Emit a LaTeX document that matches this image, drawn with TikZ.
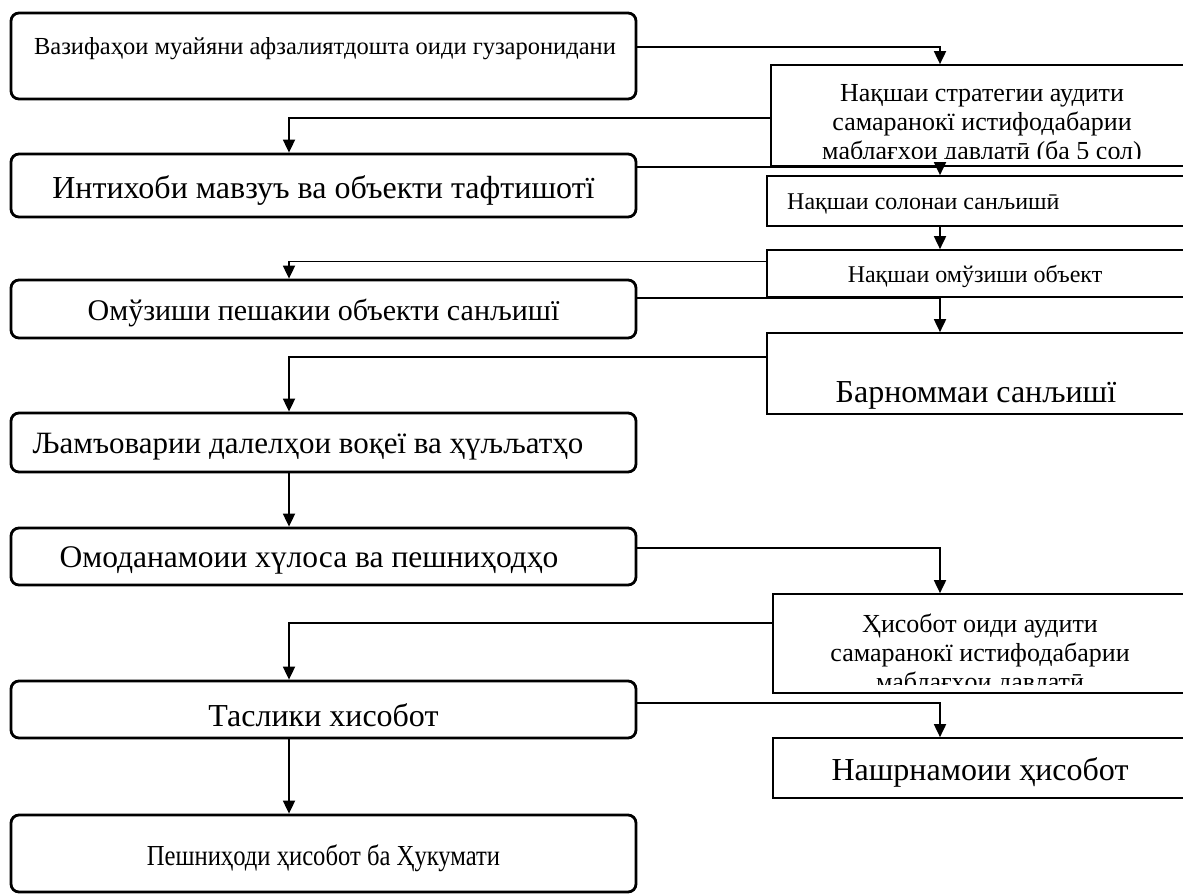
\documentclass[tikz,border=0pt]{standalone}
\usepackage{fontspec}
\setmainfont{Liberation Serif}
\usepackage{graphicx}
\usepackage{tikz}
\usetikzlibrary{arrows.meta}
\tikzstyle{stage} = [rectangle, rounded corners=8pt, minimum width=625pt, line width=2.8pt, draw=black]
\tikzstyle{plan} = [rectangle, line width=1.7pt, draw=black]
\tikzstyle{txtsmall} = [inner sep=0pt, anchor=base, font=\fontsize{24}{28}\selectfont]
\tikzstyle{txtmid} = [inner sep=0pt, anchor=base, font=\fontsize{26}{30}\selectfont]
\tikzstyle{txtbig} = [inner sep=0pt, anchor=base, font=\fontsize{32}{38}\selectfont]
\tikzstyle{arrow} = [line width=1.8pt, ->, >={Triangle[length=13pt, width=12pt]}]

\begin{document}
\begin{tikzpicture}[x=1pt, y=-1pt]
      \useasboundingbox (0,0) rectangle (1183,895);
      \clip (0,0) rectangle (1183,895);
      \coordinate (lx) at (289,0);
      \coordinate (rx) at (940,0);
      % left column
      \node (A) [stage, minimum height=86pt] at (323.5,56) {};
      \node (A-t) [txtsmall, font=\fontsize{24.5}{28}\selectfont] at (325,54) {Вазифаҳои муайяни афзалиятдошта оиди гузаронидани};
      \node (C) [stage, minimum height=63pt] at (323.5,185.5) {};
      \node (C-t) [txtbig] at (323.5,198) {Интихоби мавзуъ ва объекти тафтишотї};
      \node (F) [stage, minimum height=58pt] at (323.5,309) {};
      \node (F-t) [txtbig, font=\fontsize{30}{36}\selectfont] at (323.5,320) {Омўзиши пешакии объекти санљишї};
      \node (J) [stage, minimum height=59pt] at (323.5,442.5) {};
      \node (J-t) [txtbig, font=\fontsize{31}{36}\selectfont] at (308,453) {Љамъоварии далелҳои воқеї ва ҳүљљатҳо};
      \node (K) [stage, minimum height=57pt] at (323.5,556.5) {};
      \node (K-t) [txtbig, font=\fontsize{31.5}{36}\selectfont] at (309,567) {Омоданамоии хүлоса ва пешниҳодҳо};
      \node (M) [stage, minimum height=57pt] at (323.5,709.5) {};
      \node (M-t) [txtbig] at (323.5,726) {Таслики хисобот};
      \node (N) [stage, minimum height=77pt] at (323.5,853.5) {};
      \node (N-t) [txtbig, font=\fontsize{29}{34}\selectfont] at (323.5,865) {\scalebox{0.85}[1]{Пешниҳоди ҳисобот ба Ҳукумати}};
      % right column
      \node (B) [plan, minimum width=421pt, minimum height=101pt] at (981.5,115.5) {};
      \begin{scope}
        \clip (B.north west) rectangle ([yshift=8pt]B.south east);
        \node (B-1) [txtmid] at (982,101) {Нақшаи стратегии аудити};
        \node (B-2) [txtmid] at (982,130) {самаранокї истифодабарии};
        \node (B-3) [txtmid] at (982,159) {маблағҳои давлатӣ (ба 5 сол)};
      \end{scope}
      \node (D) [plan, minimum width=425pt, minimum height=50pt] at (979.5,201) {};
      \node (D-t) [txtsmall, anchor=base west] at (787,209) {Нақшаи солонаи санљишӣ};
      \node (E) [plan, minimum width=425pt, minimum height=47pt] at (979.5,273.5) {};
      \node (E-t) [txtsmall] at (975,282) {Нақшаи омўзиши объект};
      \node (G) [plan, minimum width=425pt, minimum height=81pt] at (979.5,373.5) {};
      \node (G-t) [txtbig] at (976,402) {Барноммаи санљишї};
      \node (L) [plan, minimum width=419pt, minimum height=99pt] at (982.5,643.5) {};
      \begin{scope}
        \clip (L.north west) rectangle ([yshift=9pt]L.south east);
        \node (L-1) [txtmid] at (980,632) {Ҳисобот оиди аудити};
        \node (L-2) [txtmid] at (980,661) {самаранокї истифодабарии};
        \node (L-3) [txtmid] at (980,690) {маблағҳои давлатӣ};
      \end{scope}
      \node (O) [plan, minimum width=419pt, minimum height=60pt] at (982.5,768) {};
      \node (O-t) [txtbig] at (980,780) {Нашрнамоии ҳисобот};
      % connectors
      \draw [arrow] ([yshift=9pt]A.east) -| (rx |- B.north);
      \draw [arrow] ([yshift=-2.5pt]B.west) -| (lx |- C.north);
      \draw [arrow] (C.east |- B.south) -| (rx |- D.north);
      \draw [arrow] (rx |- D.south) -- (rx |- E.north);
      \draw [arrow] ([yshift=12pt]E.west) -| (lx |- F.north);
      \draw [arrow] (F.east |- E.south) -| (rx |- G.north);
      \draw [arrow] ([yshift=16.5pt]G.west) -| (lx |- J.north);
      \draw [arrow] (lx |- J.south) -- (lx |- K.north);
      \draw [arrow] ([yshift=8.5pt]K.east) -| (rx |- L.north);
      \draw [arrow] ([yshift=20.5pt]L.west) -| (lx |- M.north);
      \draw [arrow] ([yshift=6.5pt]M.east) -| (rx |- O.north);
      \draw [arrow] (lx |- M.south) -- (lx |- N.north);
\end{tikzpicture}
\end{document}
